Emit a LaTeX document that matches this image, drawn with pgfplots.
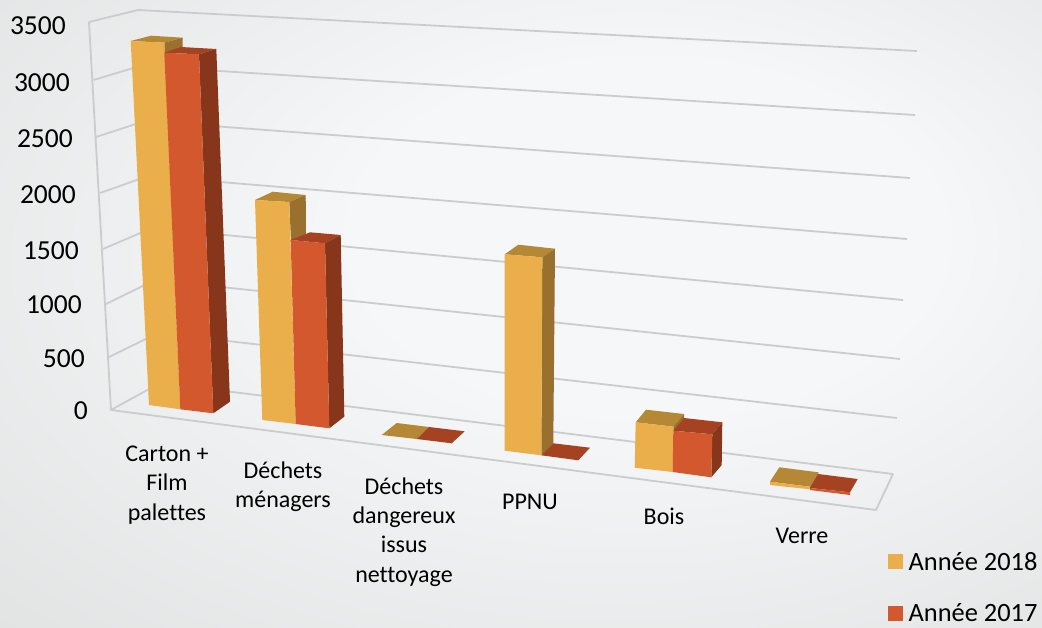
\documentclass[border=0pt]{standalone}
\usepackage{fontspec}
\setmainfont{Carlito}[RawFeature={-liga}]
\usepackage{pgfplots}
\pgfplotsset{compat=1.18}
\definecolor{ye}{HTML}{EAAE4A}
\definecolor{yeT}{HTML}{B48835}
\definecolor{yeS}{HTML}{99702E}
\definecolor{re}{HTML}{D3582E}
\definecolor{reT}{HTML}{A44221}
\definecolor{reS}{HTML}{87361C}
\definecolor{gridc}{HTML}{CBCCCD}
\definecolor{bgA}{HTML}{F6F7F8}
\definecolor{bgB}{HTML}{E0E2E2}
\pgfdeclareradialshading{bgshade}{\pgfpoint{8bp}{8bp}}{color(0bp)=(bgA); color(14bp)=(bgA); color(42bp)=(bgB); color(60bp)=(bgB)}
\newcommand{\face}[2]{\addplot[fill=#1,draw=none] coordinates {#2} -- cycle;}
\newcommand{\gl}[1]{\addplot[color=gridc,line width=1.8pt,line join=round] coordinates {#1};}
\begin{document}
\begin{tikzpicture}
\begin{axis}[
  width=1042pt,height=627pt,scale only axis,
  xmin=0,xmax=1042,ymin=0,ymax=627,y dir=reverse,
  hide axis,
  axis background/.style={shading=bgshade},
  legend style={at={(axis cs:888,552)},anchor=north west,draw=none,fill=none,overlay,
    font=\fontsize{26.4}{30}\selectfont,row sep=32pt,inner sep=0pt,
    nodes={inner xsep=5.5pt,inner ysep=0pt}},
  legend cell align=left,
  legend image code/.code={\fill[#1,draw=none] (0pt,-7.5pt) rectangle (15pt,7.5pt);},
]
% legend
\addlegendimage{fill=ye}\addlegendentry{Année 2018}
\addlegendimage{fill=re}\addlegendentry{Année 2017}
% walls and gridlines
\gl{(89,22)(111,410)(876,510)(893,474)}
\gl{(89,22)(138,10)(917,51)}
\gl{(93.5,80)(140,66)(915,115)}
\gl{(96,137)(145,121)(910,178)}
\gl{(100,193)(148,176)(907,239)}
\gl{(103,249)(152,228)(903,300)}
\gl{(106,304)(155,280)(900,359)}
\gl{(109,357)(158,333)(897,418)}
\gl{(111,410)(160,383)(893,474)}
% Carton + Film palettes
\face{yeT}{(130.7,41)(151,35.7)(182.7,37.7)(164.3,42.7)}
\face{yeS}{(164.3,42.7)(182.7,37.7)(182.7,50)(164.3,54)}
\face{ye}{(130.7,41)(164.3,42.7)(180.3,409.3)(149,405)}
\face{reT}{(164.3,52.7)(181,47)(216.3,49)(199,54.3)}
\face{reS}{(199,54.3)(216.3,49)(230,401.7)(213.3,413.3)}
\face{re}{(164.3,52.7)(199,54.3)(213.3,413.3)(180.3,409.3)}
% Dechets menagers
\face{yeT}{(255,200)(272.7,191.7)(305.7,195)(289.3,202)}
\face{yeS}{(289.3,202)(305.7,195)(306,234)(291,242)}
\face{ye}{(255,200)(289.3,202)(295.7,424)(262.3,420)}
\face{reT}{(290.7,240)(310,232.3)(340.7,235)(325,243.3)}
\face{reS}{(325,243.3)(340.7,235)(344.3,416.7)(329.3,428.3)}
\face{re}{(290.7,240)(325,243.3)(329.3,428.3)(295.7,424)}
% Dechets dangereux
\face{yeT}{(381.7,435)(396.7,423)(429,427)(416.7,439)}
\face{reT}{(416.7,439)(429,427)(464.7,431.3)(451.7,443.3)}
% PPNU
\face{yeT}{(504.7,254.3)(518.3,244.7)(555,248.7)(542.3,257.3)}
\face{yeS}{(542.3,257.3)(555,248.7)(553.3,443.3)(541.3,455.3)}
\face{ye}{(504.7,254.3)(542.3,257.3)(541.3,455.3)(504.7,450.7)}
\face{reT}{(541.3,455.3)(553.3,443.3)(590,447.7)(578.3,460.3)}
% Bois
\face{yeT}{(635.7,422.3)(646,409.7)(684,414)(673.3,426.7)}
\face{yeS}{(673.3,426.7)(684,414)(684,418.5)(673.3,431.2)}
\face{ye}{(635.7,422.3)(673.3,426.7)(673.3,431)(672.7,472)(634.7,467.7)}
\face{reT}{(673.3,430.7)(684,418)(722.3,422.3)(712.3,434.3)}
\face{reS}{(712.3,434.3)(722.3,422.3)(721.7,465)(711.3,477.3)}
\face{re}{(673.3,430.7)(712.3,434.3)(711.3,477.3)(672.7,472)}
% Verre
\face{yeT}{(770,481.7)(779.3,467.3)(818.3,472.3)(810,486.7)}
\face{yeS}{(810,486.7)(818.3,472.3)(818.3,474.5)(810,488.5)}
\face{ye}{(770,481.7)(810,486.7)(810,489.3)(770,485)}
\face{reT}{(810,488)(818.3,474)(857.7,479)(850,492.3)}
\face{re}{(810,488)(850,492.3)(850,495)(810,490)}
% y tick labels
\begin{scope}[every node/.style={anchor=east,inner sep=0pt,font=\fontsize{27.5}{30}\selectfont}]
\node at (axis cs:66,26) {3500};
\node at (axis cs:70,83) {3000};
\node at (axis cs:73,139) {2500};
\node at (axis cs:76,195) {2000};
\node at (axis cs:79,251) {1500};
\node at (axis cs:82,305) {1000};
\node at (axis cs:85,359) {500};
\node at (axis cs:88,411) {0};
\end{scope}
% category labels
\begin{scope}[every node/.style={align=center,inner sep=0pt,font=\fontsize{24}{29.3}\selectfont}]
\node at (axis cs:167,485) {Carton +\\Film\\palettes};
\node at (axis cs:283,487) {Déchets\\ménagers};
\node at (axis cs:404,532) {Déchets\\dangereux\\issus\\nettoyage};
\node at (axis cs:530,502) {PPNU};
\node at (axis cs:664,516) {Bois};
\node at (axis cs:802,536) {Verre};
\end{scope}
\end{axis}
\end{tikzpicture}
\end{document}
